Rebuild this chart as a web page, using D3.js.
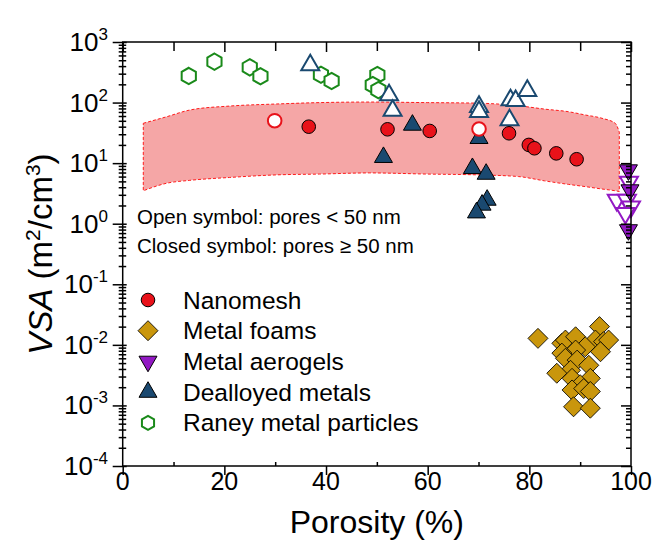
<!DOCTYPE html>
<html>
<head>
<meta charset="utf-8">
<script src="https://cdn.jsdelivr.net/npm/d3@7"></script>
<style>
body { margin: 0; background: #fff; }
text { font-family: "Liberation Sans", Arial, sans-serif; fill: #000; }
</style>
</head>
<body>
<svg id="chart" width="667" height="548"></svg>
<script>
// values: porosity (%) and VSA (m2/cm3)
var meshP = [36.6, 52.1, 60.4, 76.0, 79.9, 81.0, 85.3, 89.3];
var meshV = [40.0, 36.2, 34.0, 31.1, 20.0, 17.6, 14.5, 11.6];
var meshOpenP = [29.9, 70.1];
var meshOpenV = [50.2, 36.6];

var foamP = [81.7, 86.4, 87.1, 89.1, 93.8, 93.0, 94.6, 95.6, 91.0, 89.1, 86.4, 94.0, 87.1,
             89.4, 91.7, 88.1, 85.4, 88.4, 92.0, 90.0, 88.4, 90.7, 92.0, 88.7, 92.0];
var foamV = [1.28e-2, 1.06e-2, 1.2e-2, 1.36e-2, 2.0e-2, 1.2e-2, 1.13e-2, 1.2e-2, 9.3e-3, 8.2e-3, 7.3e-3, 7.7e-3, 6.0e-3,
             5.6e-3, 4.6e-3, 3.8e-3, 3.4e-3, 2.8e-3, 2.8e-3, 2.2e-3, 1.8e-3, 1.9e-3, 1.7e-3, 9.5e-4, 9.0e-4];

var aeroP = [99.5, 99.8, 99.5];
var aeroV = [7.7, 3.6, 0.79];
var aeroOpenP = [97.2, 99.2, 100, 98.9, 99.6];
var aeroOpenV = [2.46, 2.46, 1.91, 1.49, 4.9];

var dealP = [57.0, 51.3, 70.1, 68.8, 71.5, 71.7, 70.7, 69.6];
var dealV = [42.6, 12.5, 25.7, 8.2, 6.6, 2.46, 2.04, 1.52];
var dealOpenP = [36.9, 52.4, 53.1, 70.1, 70.1, 76.3, 77.3, 79.6, 76.1];
var dealOpenV = [417, 133, 73.5, 85.5, 70.7, 110, 107, 157, 51.5];

var raneyP = [13.0, 18.05, 25.0, 27.1, 39.0, 41.1, 50.1, 49.2, 50.3];
var raneyV = [275, 473, 382, 272, 288, 227, 285, 195, 161];

// shaded band (upper and lower dashed bounds)
var bandX   = [4.05, 8.6, 13.2, 21, 30.2, 38.7, 48.5, 60, 70, 77.9, 83, 87.7, 91, 94.3, 96.9, 97.7];
var bandUp  = [45.5, 58.2, 75.3, 87.5, 94.7, 99.8, 102, 99.8, 97.7, 88.5, 78, 70.6, 62.4, 55, 45.5, 32.5];
var bandLow = [3.5, 4.65, 5.2, 5.8, 6.4, 6.6, 6.9, 6.6, 6.4, 6.0, 5.1, 4.46, 4.1, 3.74, 3.5, 3.4];

var xTicks = [0, 20, 40, 60, 80, 100];
var xMinor = [10, 30, 50, 70, 90];
var yExp = [-4, -3, -2, -1, 0, 1, 2, 3];

var legendNames = ["Nanomesh", "Metal foams", "Metal aerogels", "Dealloyed metals", "Raney metal particles"];
var legendKinds = ["circle", "diamond", "down", "up", "hex"];
var noteLines = ["Open symbol: pores < 50 nm", "Closed symbol: pores \u2265 50 nm"];

var RED = "#e8121a", GOLD = "#c9960c", PURPLE = "#9219c4", NAVY = "#1a4970", GREEN = "#1a8a1a";

var svg = d3.select("#chart");
var x = d3.scaleLinear().domain([0, 100]).range([122.7, 631]);
var y = d3.scaleLog().domain([1e-4, 1e3]).range([466, 42]);

// band
var band = d3.area()
    .x(function(d, i) { return x(bandX[i]); })
    .y0(function(d, i) { return y(bandLow[i]); })
    .y1(function(d, i) { return y(bandUp[i]); })
    .curve(d3.curveMonotoneX);
svg.append("path")
    .attr("d", band(bandX))
    .attr("fill", "#f5a6a6")
    .attr("stroke", "#ff1a1a")
    .attr("stroke-width", 1)
    .attr("stroke-dasharray", "3,2");

// marker shapes
function hexPath(r) {
    var pts = d3.range(6).map(function(k) {
        var a = Math.PI / 3 * k - Math.PI / 2;
        return [r * Math.cos(a), r * Math.sin(a)];
    });
    return d3.line()(pts) + "Z";
}
var shapes = {
    circle: d3.symbol().type(d3.symbolCircle).size(145)(),
    diamond: d3.symbol().type(d3.symbolSquare).size(200)(),
    up: d3.symbol().type(d3.symbolTriangle).size(140)(),
    down: d3.symbol().type(d3.symbolTriangle).size(140)(),
    hex: hexPath(8.2)
};
var rot = { circle: 0, diamond: 45, up: 0, down: 180, hex: 0 };

function drawSet(P, V, kind, fill, stroke, sw) {
    svg.append("g").selectAll("path")
        .data(P)
        .enter().append("path")
        .attr("d", shapes[kind])
        .attr("transform", function(d, i) {
            return "translate(" + x(d) + "," + y(V[i]) + ") rotate(" + rot[kind] + ")";
        })
        .attr("fill", fill)
        .attr("stroke", stroke)
        .attr("stroke-width", sw);
}

drawSet(raneyP, raneyV, "hex", "#fff", GREEN, 2);
drawSet(dealOpenP, dealOpenV, "up", "#fff", NAVY, 2);
drawSet(dealP, dealV, "up", NAVY, "#000", 1);
drawSet(meshOpenP, meshOpenV, "circle", "#fff", RED, 2);
drawSet(meshP, meshV, "circle", RED, "#000", 1);
drawSet(foamP, foamV, "diamond", GOLD, "#000", 0.8);
drawSet(aeroOpenP, aeroOpenV, "down", "#fff", PURPLE, 2);
drawSet(aeroP, aeroV, "down", PURPLE, "#000", 1);

// axes
var minorY = [];
yExp.slice(0, -1).forEach(function(e) {
    for (var k = 2; k <= 9; k++) minorY.push(k * Math.pow(10, e));
});
var majorY = yExp.map(function(e) { return Math.pow(10, e); });

var gL = svg.append("g").attr("transform", "translate(" + x(0) + ",0)");
gL.call(d3.axisLeft(y).tickValues(majorY).tickSize(10).tickFormat(""));
gL.selectAll(".tick line").attr("x1", 4);
var gLm = svg.append("g").attr("transform", "translate(" + x(0) + ",0)");
gLm.call(d3.axisLeft(y).tickValues(minorY).tickSize(4).tickFormat(""));
gLm.selectAll(".tick line").attr("x1", 3.5);

var gR = svg.append("g").attr("transform", "translate(" + x(100) + ",0)");
gR.call(d3.axisRight(y).tickValues(majorY).tickSize(-10).tickFormat(""));
var gRm = svg.append("g").attr("transform", "translate(" + x(100) + ",0)");
gRm.call(d3.axisRight(y).tickValues(minorY).tickSize(-5).tickFormat(""));

var gB = svg.append("g").attr("transform", "translate(0," + y(1e-4) + ")");
gB.call(d3.axisBottom(x).tickValues(xTicks).tickSize(9).tickFormat(""));
var gBm = svg.append("g").attr("transform", "translate(0," + y(1e-4) + ")");
gBm.call(d3.axisBottom(x).tickValues(xMinor).tickSize(-4).tickFormat(""));

var gT = svg.append("g").attr("transform", "translate(0," + y(1e3) + ")");
gT.call(d3.axisTop(x).tickValues(xTicks).tickSize(-10).tickFormat(""));
var gTm = svg.append("g").attr("transform", "translate(0," + y(1e3) + ")");
gTm.call(d3.axisTop(x).tickValues(xMinor).tickSize(-9).tickFormat(""));

svg.selectAll(".domain").remove();
svg.selectAll(".tick line").attr("stroke", "#000").attr("stroke-width", 1.5);
svg.append("rect")
    .attr("x", x(0)).attr("y", y(1e3))
    .attr("width", x(100) - x(0)).attr("height", y(1e-4) - y(1e3))
    .attr("fill", "none").attr("stroke", "#000").attr("stroke-width", 1.5);

// tick labels
svg.append("g").selectAll("text")
    .data(xTicks)
    .enter().append("text")
    .attr("x", function(d) { return x(d); })
    .attr("y", 490)
    .attr("text-anchor", "middle")
    .attr("font-size", 25)
    .text(function(d) { return d; });

var yLab = svg.append("g").selectAll("text")
    .data(yExp)
    .enter().append("text")
    .attr("x", 108)
    .attr("y", function(d) { return y(Math.pow(10, d)) + 9; })
    .attr("text-anchor", "end")
    .attr("font-size", 26);
yLab.append("tspan").text("10");
yLab.append("tspan").attr("font-size", 17).attr("dy", -11).text(function(d) { return d; });

// axis titles
svg.append("text")
    .attr("x", (x(0) + x(100)) / 2)
    .attr("y", 533)
    .attr("text-anchor", "middle")
    .attr("font-size", 32)
    .text("Porosity (%)");

var yt = svg.append("text")
    .attr("transform", "translate(52," + (y(1e-4) + y(1e3)) / 2 + ") rotate(-90)")
    .attr("text-anchor", "middle")
    .attr("font-size", 33);
yt.append("tspan").attr("font-style", "italic").text("VSA");
yt.append("tspan").text(" (m");
yt.append("tspan").attr("font-size", 21).attr("dy", -12).text("2");
yt.append("tspan").attr("dy", 12).text("/cm");
yt.append("tspan").attr("font-size", 21).attr("dy", -12).text("3");
yt.append("tspan").attr("dy", 12).text(")");

// notes
svg.append("g").selectAll("text")
    .data(noteLines)
    .enter().append("text")
    .attr("x", 137)
    .attr("y", function(d, i) { return 224 + i * 29; })
    .attr("font-size", 20.5)
    .text(function(d) { return d; });

// legend
var legFill = [RED, GOLD, PURPLE, NAVY, "#fff"];
var legStroke = ["#000", "#000", "#000", "#000", GREEN];
var legSw = [1, 0.8, 1, 1, 2];
var leg = svg.append("g").selectAll("g")
    .data(legendNames)
    .enter().append("g")
    .attr("transform", function(d, i) { return "translate(148," + (300 + i * 30.7) + ")"; });
leg.append("path")
    .attr("d", function(d, i) { return legendKinds[i] === "hex" ? hexPath(7) : shapes[legendKinds[i]]; })
    .attr("transform", function(d, i) { return "rotate(" + rot[legendKinds[i]] + ")"; })
    .attr("fill", function(d, i) { return legFill[i]; })
    .attr("stroke", function(d, i) { return legStroke[i]; })
    .attr("stroke-width", function(d, i) { return legSw[i]; });
leg.append("text")
    .attr("x", 35)
    .attr("y", 8.5)
    .attr("font-size", 24.5)
    .text(function(d) { return d; });
</script>
</body>
</html>
